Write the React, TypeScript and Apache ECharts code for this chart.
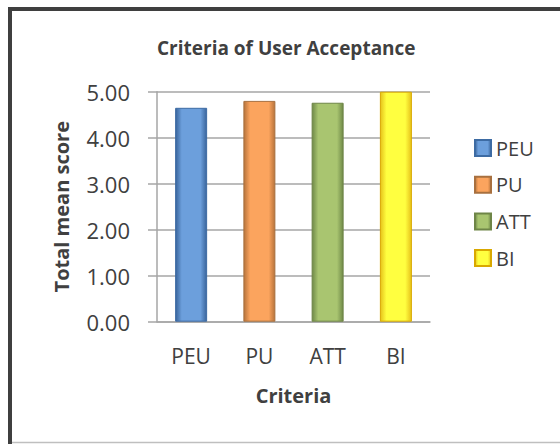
import React, { useEffect, useRef } from "react";
import * as echarts from "echarts";

const categories = ["PEU", "PU", "ATT", "BI"];
const values = [4.65, 4.8, 4.76, 5.0];
const yTicks = { min: 0, max: 5, interval: 1 };
const titleText = "Criteria of User Acceptance";
const xName = "Criteria";
const yName = "Total mean score";

const palettes = [
  { dark: "#3A659C", light: "#6C9FDC", border: "#3D6BA3" },
  { dark: "#B8743C", light: "#FBA45E", border: "#A8703F" },
  { dark: "#6F8948", light: "#A9C570", border: "#6E8547" },
  { dark: "#E6C21A", light: "#FFFF40", border: "#D9A800" },
];

const FONT = "Open Sans";
const TXT = "#404040";
const GRID = "#A6A6A6";

export default function App() {
  const ref = useRef<HTMLDivElement>(null);
  useEffect(() => {
    if (!ref.current) return;
    const chart = echarts.init(ref.current, null, { renderer: "svg" });
    const grad = (p: any) =>
      new echarts.graphic.LinearGradient(0, 0, 1, 0, [
        { offset: 0, color: p.dark },
        { offset: 0.2, color: p.light },
        { offset: 0.5, color: p.light },
        { offset: 0.8, color: p.light },
        { offset: 1, color: p.dark },
      ]);
    const series = categories.map((c, i) => ({
      name: c,
      type: "bar",
      stack: "all",
      barWidth: 32,
      data: categories.map((_, j) => (j === i ? values[i] : "-")),
      itemStyle: {
        color: grad(palettes[i]),
        borderColor: palettes[i].border,
        borderWidth: 1,
      },
    }));
    chart.setOption({
      animation: false,
      textStyle: { fontFamily: FONT },
      title: {
        text: titleText,
        left: 152,
        top: 33,
        textStyle: { fontFamily: FONT, fontSize: 19, fontWeight: "bold", color: TXT },
      },
      legend: {
        orient: "vertical",
        left: 469,
        top: 133,
        icon: "rect",
        itemWidth: 16,
        itemHeight: 16,
        itemGap: 16.7,
        textStyle: { fontFamily: FONT, fontSize: 20, color: TXT, lineHeight: 20 },
        data: categories,
      },
      grid: { left: 157, right: 130, top: 91.7, bottom: 122.3, containLabel: false },
      xAxis: {
        type: "category",
        data: categories,
        name: xName,
        nameLocation: "middle",
        nameGap: 64,
        nameTextStyle: { fontFamily: FONT, fontSize: 20, fontWeight: "bold", color: TXT },
        axisLine: { lineStyle: { color: GRID, width: 1.5 } },
        axisTick: { show: false },
        axisLabel: { fontFamily: FONT, fontSize: 21, color: TXT, margin: 24 },
      },
      yAxis: {
        type: "value",
        min: yTicks.min,
        max: yTicks.max,
        interval: yTicks.interval,
        name: yName,
        nameLocation: "middle",
        nameGap: 86,
        nameTextStyle: { fontFamily: FONT, fontSize: 20, fontWeight: "bold", color: TXT },
        axisLine: { show: true, lineStyle: { color: GRID, width: 1.5 } },
        axisTick: { show: true, length: 9, lineStyle: { color: GRID, width: 1.5 } },
        splitLine: { lineStyle: { color: GRID, width: 1.5 } },
        axisLabel: {
          fontFamily: FONT,
          fontSize: 22,
          color: TXT,
          margin: 27,
          formatter: (v: number) => v.toFixed(2),
        },
      },
      graphic: [
        { type: "line", shape: { x1: 8, y1: 9, x2: 560, y2: 9 }, style: { stroke: "#3F3F3F", lineWidth: 4 } },
        { type: "line", shape: { x1: 10, y1: 7, x2: 10, y2: 444 }, style: { stroke: "#3F3F3F", lineWidth: 4 } },
        { type: "line", shape: { x1: 12, y1: 442.5, x2: 560, y2: 442.5 }, style: { stroke: "#BFBFBF", lineWidth: 1.5 } },
      ],
      series,
    });
    return () => chart.dispose();
  }, []);
  return (
    <div
      ref={ref}
      style={{ position: "absolute", left: 0, top: 0, width: 560, height: 444, background: "#fff" }}
    />
  );
}
